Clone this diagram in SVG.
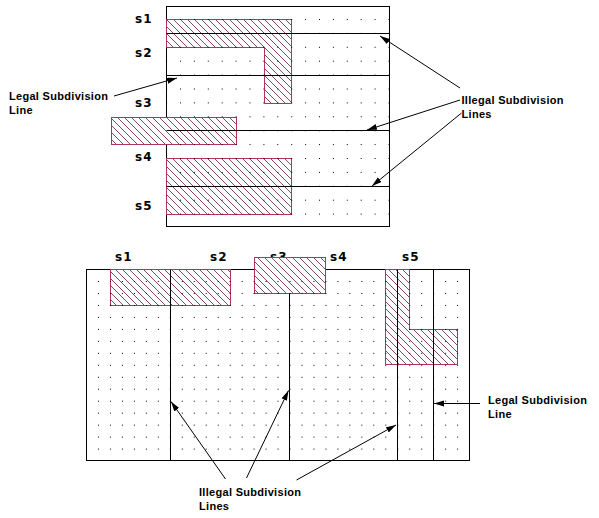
<svg xmlns="http://www.w3.org/2000/svg" width="599" height="518" viewBox="0 0 599 518">
<style>
.frame{fill:none;stroke:#000;stroke-width:1}
.sub{stroke:#000;stroke-width:1;fill:none}
.hatch{fill:url(#hatch);stroke:#b3335f;stroke-width:1}
.arrow{stroke:#000;stroke-width:1;fill:none;marker-end:url(#ah)}
.lbl{font-family:"Liberation Sans",Arial,sans-serif;font-weight:bold;font-size:11px;letter-spacing:0.3px;fill:#000}
.s{font-family:"DejaVu Sans","Liberation Sans",sans-serif;font-weight:bold;font-size:12px;letter-spacing:1.2px;fill:#000}
</style>
<defs>
<pattern id="hatch" patternUnits="userSpaceOnUse" width="7" height="7">
<rect width="7" height="7" fill="#fff"/>
<path d="M-1,-1 L8,8 M-1,6 L1,8 M6,-1 L8,1" stroke="#6a1a3a" stroke-width="0.8"/>
</pattern>
<pattern id="dotsA" patternUnits="userSpaceOnUse" x="180" y="19" width="13.9" height="13.9">
<rect width="1" height="1" fill="#000"/>
</pattern>
<pattern id="dotsB" patternUnits="userSpaceOnUse" x="98" y="281" width="11.97" height="11.97">
<rect width="1" height="1" fill="#000"/>
</pattern>
<marker id="ah" markerUnits="userSpaceOnUse" markerWidth="11" markerHeight="7" refX="10" refY="3" orient="auto">
<path d="M0,0 L10,3 L0,6 z" fill="#000"/>
</marker>
</defs>

<g id="top-diagram">
<rect class="frame" x="166.5" y="6.5" width="223" height="220"/>
<g id="top-s1s2-L"><polygon class="hatch" points="166.5,19.5 291.5,19.5 291.5,103.5 264.5,103.5 264.5,47.5 166.5,47.5"/></g>
<g id="top-s3s4-rect"><rect class="hatch" x="111.5" y="117.5" width="125" height="27"/></g>
<g id="top-s4s5-rect"><rect class="hatch" x="166.5" y="158.5" width="125" height="56"/></g>
<line class="sub" x1="166.5" y1="33.5" x2="389.5" y2="33.5"/>
<line class="sub" x1="166.5" y1="75.5" x2="389.5" y2="75.5"/>
<line class="sub" x1="166.5" y1="130.5" x2="389.5" y2="130.5"/>
<line class="sub" x1="166.5" y1="186.5" x2="389.5" y2="186.5"/>
<rect x="167" y="7" width="222" height="219" fill="url(#dotsA)"/>
<text class="s" x="135" y="23">s1</text>
<text class="s" x="135" y="57">s2</text>
<text class="s" x="135" y="107">s3</text>
<text class="s" x="135" y="161">s4</text>
<text class="s" x="135" y="210">s5</text>
</g>

<g id="bottom-diagram">
<text class="s" x="115" y="261">s1</text>
<text class="s" x="210" y="261">s2</text>
<text class="s" x="270" y="261">s3</text>
<text class="s" x="330" y="261">s4</text>
<text class="s" x="402" y="261">s5</text>
<rect class="frame" x="86.5" y="269.5" width="383" height="191"/>
<g id="bot-s1s2-rect"><rect class="hatch" x="110.5" y="269.5" width="120" height="36"/></g>
<g id="bot-s3-rect"><rect class="hatch" x="254.5" y="257.5" width="71" height="36"/></g>
<g id="bot-s5-L"><polygon class="hatch" points="385.5,269.5 409.5,269.5 409.5,329.5 457.5,329.5 457.5,364.5 385.5,364.5"/></g>
<line class="sub" x1="170.5" y1="269.5" x2="170.5" y2="460.5"/>
<line class="sub" x1="289.5" y1="293.5" x2="289.5" y2="460.5"/>
<line class="sub" x1="397.5" y1="269.5" x2="397.5" y2="460.5"/>
<line class="sub" x1="433.5" y1="269.5" x2="433.5" y2="460.5"/>
<rect x="87" y="270" width="382" height="190" fill="url(#dotsB)"/>
</g>

<g id="connectors">
<line class="arrow" x1="114" y1="96" x2="177" y2="78"/>
<line class="arrow" x1="460" y1="88" x2="380" y2="36"/>
<line class="arrow" x1="460" y1="100" x2="367" y2="130"/>
<line class="arrow" x1="461.5" y1="113" x2="372" y2="186"/>
<line class="arrow" x1="225.5" y1="479" x2="171" y2="401.5"/>
<line class="arrow" x1="246.5" y1="478" x2="288.5" y2="390.5"/>
<line class="arrow" x1="296.5" y1="480" x2="396" y2="425"/>
<line class="arrow" x1="480" y1="403.5" x2="434" y2="403.5"/>
</g>

<g id="labels">
<text class="lbl" x="9" y="100">Legal Subdivision<tspan x="9" y="113.5">Line</tspan></text>
<text class="lbl" x="461.5" y="104">Illegal Subdivision<tspan x="461.5" y="117.5">Lines</tspan></text>
<text class="lbl" x="199" y="496">Illegal Subdivision<tspan x="199" y="509.5">Lines</tspan></text>
<text class="lbl" x="488" y="404">Legal Subdivision<tspan x="488" y="417.5">Line</tspan></text>
</g>
</svg>
